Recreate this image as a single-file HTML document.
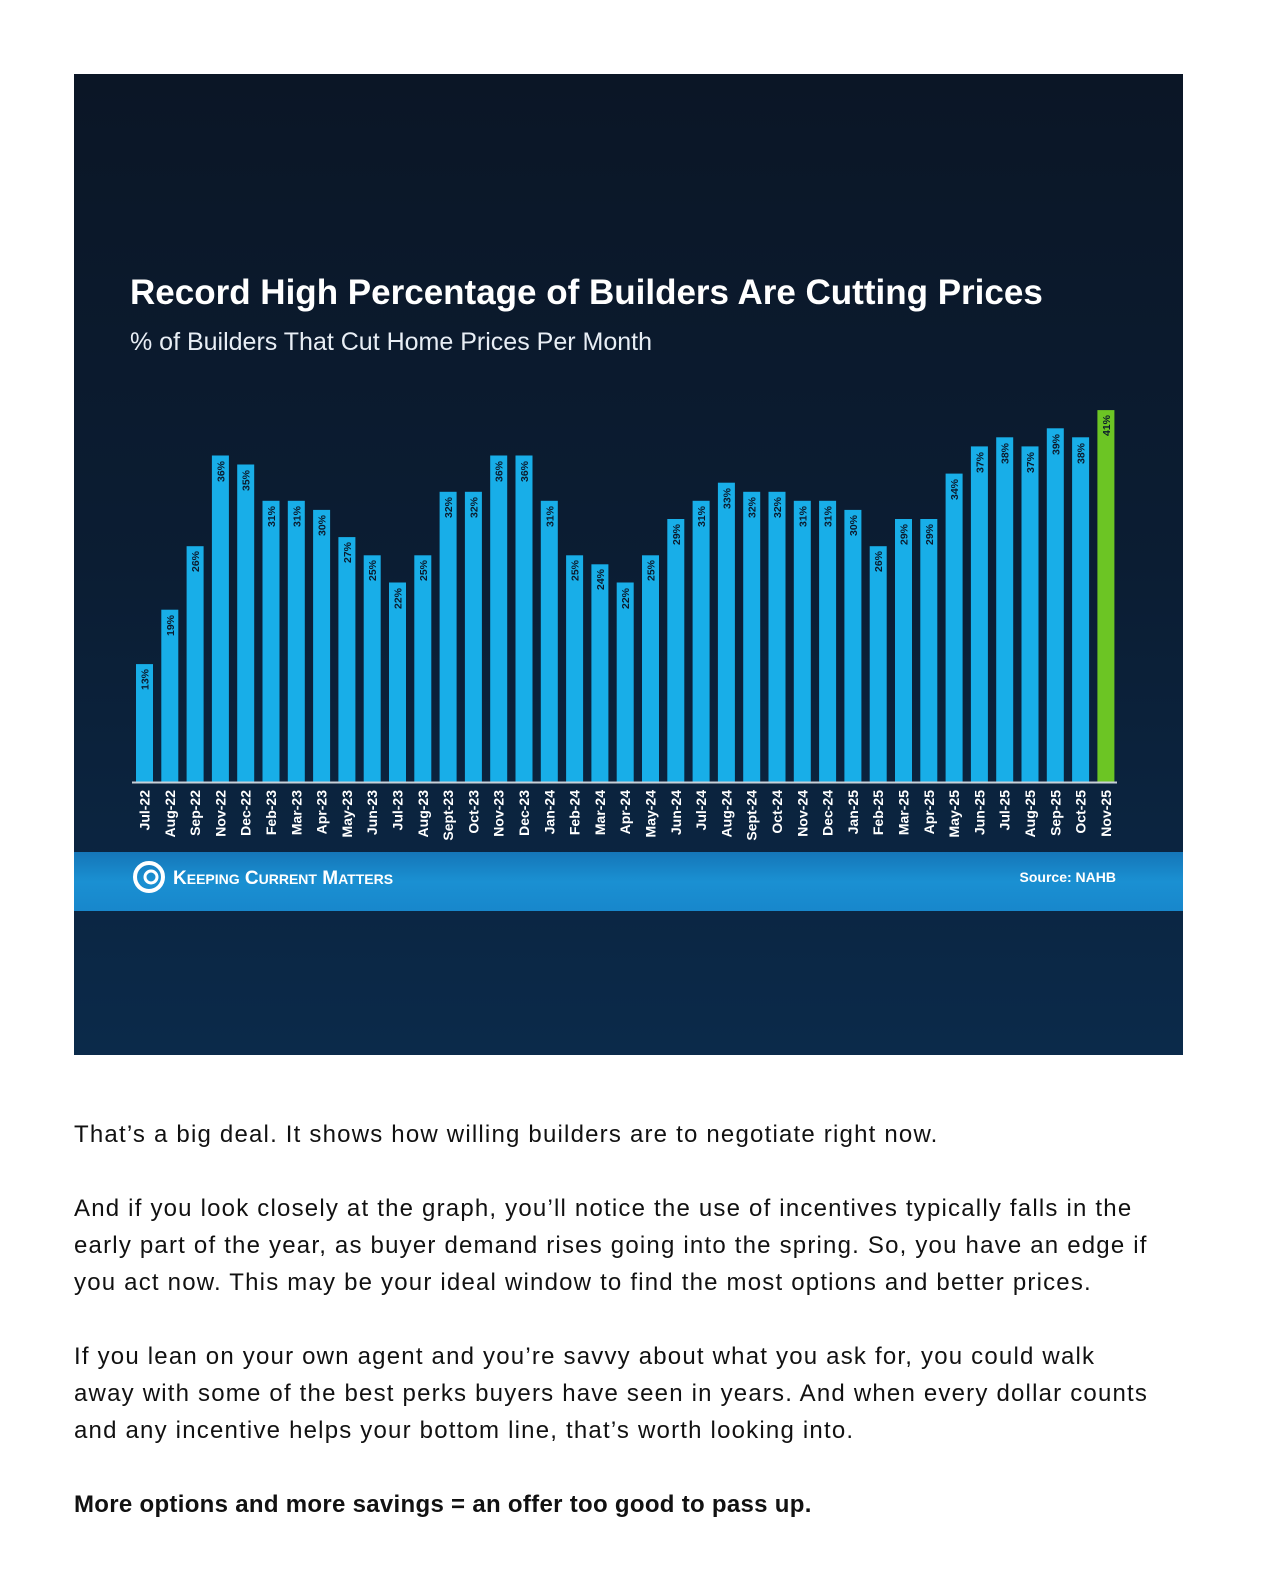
<!DOCTYPE html>
<html><head><meta charset="utf-8"><style>
body{margin:0;background:#fff;width:1275px;height:1590px;position:relative;overflow:hidden;font-family:"Liberation Sans",sans-serif}
.p{position:absolute;left:74px;font-size:24px;line-height:37px;color:#111;white-space:nowrap;letter-spacing:1.2px}
</style></head><body>
<svg style="position:absolute;left:0;top:0" width="1275" height="1090" font-family="Liberation Sans, sans-serif">
<defs><linearGradient id="bg" x1="0" y1="0" x2="0" y2="1"><stop offset="0" stop-color="#0b1626"/><stop offset="0.5" stop-color="#0b1d33"/><stop offset="1" stop-color="#0b2a4a"/></linearGradient>
<linearGradient id="ft" x1="0" y1="0" x2="0" y2="1"><stop offset="0" stop-color="#1576b8"/><stop offset="0.5" stop-color="#1a90d2"/><stop offset="1" stop-color="#1887cc"/></linearGradient></defs>
<rect x="74" y="74" width="1109" height="981" fill="url(#bg)"/>
<rect x="74" y="852" width="1109" height="59" fill="url(#ft)"/>
<text x="130" y="304" fill="#fff" font-size="35" font-weight="bold">Record High Percentage of Builders Are Cutting Prices</text>
<text x="130" y="350" fill="#e8eef5" font-size="25">% of Builders That Cut Home Prices Per Month</text>
<g fill="#18aee8">
<rect x="136.0" y="664.1" width="17" height="117.9"/><rect x="161.3" y="609.7" width="17" height="172.3"/><rect x="186.6" y="546.2" width="17" height="235.8"/><rect x="211.9" y="455.5" width="17" height="326.5"/><rect x="237.2" y="464.5" width="17" height="317.5"/><rect x="262.5" y="500.8" width="17" height="281.2"/><rect x="287.8" y="500.8" width="17" height="281.2"/><rect x="313.1" y="509.9" width="17" height="272.1"/><rect x="338.4" y="537.1" width="17" height="244.9"/><rect x="363.7" y="555.3" width="17" height="226.7"/><rect x="389.0" y="582.5" width="17" height="199.5"/><rect x="414.3" y="555.3" width="17" height="226.7"/><rect x="439.6" y="491.8" width="17" height="290.2"/><rect x="464.9" y="491.8" width="17" height="290.2"/><rect x="490.2" y="455.5" width="17" height="326.5"/><rect x="515.5" y="455.5" width="17" height="326.5"/><rect x="540.8" y="500.8" width="17" height="281.2"/><rect x="566.1" y="555.3" width="17" height="226.7"/><rect x="591.4" y="564.3" width="17" height="217.7"/><rect x="616.7" y="582.5" width="17" height="199.5"/><rect x="642.0" y="555.3" width="17" height="226.7"/><rect x="667.3" y="519.0" width="17" height="263.0"/><rect x="692.6" y="500.8" width="17" height="281.2"/><rect x="717.9" y="482.7" width="17" height="299.3"/><rect x="743.2" y="491.8" width="17" height="290.2"/><rect x="768.5" y="491.8" width="17" height="290.2"/><rect x="793.8" y="500.8" width="17" height="281.2"/><rect x="819.1" y="500.8" width="17" height="281.2"/><rect x="844.4" y="509.9" width="17" height="272.1"/><rect x="869.7" y="546.2" width="17" height="235.8"/><rect x="895.0" y="519.0" width="17" height="263.0"/><rect x="920.3" y="519.0" width="17" height="263.0"/><rect x="945.6" y="473.6" width="17" height="308.4"/><rect x="970.9" y="446.4" width="17" height="335.6"/><rect x="996.2" y="437.3" width="17" height="344.7"/><rect x="1021.5" y="446.4" width="17" height="335.6"/><rect x="1046.8" y="428.3" width="17" height="353.7"/><rect x="1072.1" y="437.3" width="17" height="344.7"/>
</g>
<rect x="1097.4" y="410.1" width="17" height="371.9" fill="#6cc524"/>
<line x1="132" y1="782.5" x2="1117" y2="782.5" stroke="#c8d0d8" stroke-width="2"/>
<g fill="#0b1a2c" font-size="10.5" font-weight="bold" text-anchor="end">
<text transform="translate(148.5,669) rotate(-90)">13%</text><text transform="translate(173.8,615) rotate(-90)">19%</text><text transform="translate(199.1,551) rotate(-90)">26%</text><text transform="translate(224.4,461) rotate(-90)">36%</text><text transform="translate(249.7,470) rotate(-90)">35%</text><text transform="translate(275,506) rotate(-90)">31%</text><text transform="translate(300.3,506) rotate(-90)">31%</text><text transform="translate(325.6,515) rotate(-90)">30%</text><text transform="translate(350.9,542) rotate(-90)">27%</text><text transform="translate(376.2,560) rotate(-90)">25%</text><text transform="translate(401.5,588) rotate(-90)">22%</text><text transform="translate(426.8,560) rotate(-90)">25%</text><text transform="translate(452.1,497) rotate(-90)">32%</text><text transform="translate(477.4,497) rotate(-90)">32%</text><text transform="translate(502.7,461) rotate(-90)">36%</text><text transform="translate(528,461) rotate(-90)">36%</text><text transform="translate(553.3,506) rotate(-90)">31%</text><text transform="translate(578.6,560) rotate(-90)">25%</text><text transform="translate(603.9,569) rotate(-90)">24%</text><text transform="translate(629.2,588) rotate(-90)">22%</text><text transform="translate(654.5,560) rotate(-90)">25%</text><text transform="translate(679.8,524) rotate(-90)">29%</text><text transform="translate(705.1,506) rotate(-90)">31%</text><text transform="translate(730.4,488) rotate(-90)">33%</text><text transform="translate(755.7,497) rotate(-90)">32%</text><text transform="translate(781,497) rotate(-90)">32%</text><text transform="translate(806.3,506) rotate(-90)">31%</text><text transform="translate(831.6,506) rotate(-90)">31%</text><text transform="translate(856.9,515) rotate(-90)">30%</text><text transform="translate(882.2,551) rotate(-90)">26%</text><text transform="translate(907.5,524) rotate(-90)">29%</text><text transform="translate(932.8,524) rotate(-90)">29%</text><text transform="translate(958.1,479) rotate(-90)">34%</text><text transform="translate(983.4,452) rotate(-90)">37%</text><text transform="translate(1008.7,443) rotate(-90)">38%</text><text transform="translate(1034,452) rotate(-90)">37%</text><text transform="translate(1059.3,434) rotate(-90)">39%</text><text transform="translate(1084.6,443) rotate(-90)">38%</text><text transform="translate(1109.9,415) rotate(-90)">41%</text>
</g>
<g fill="#fff" font-size="14" font-weight="bold" text-anchor="end">
<text transform="translate(149.5,790) rotate(-90)">Jul-22</text><text transform="translate(174.8,790) rotate(-90)">Aug-22</text><text transform="translate(200.1,790) rotate(-90)">Sep-22</text><text transform="translate(225.4,790) rotate(-90)">Nov-22</text><text transform="translate(250.7,790) rotate(-90)">Dec-22</text><text transform="translate(276,790) rotate(-90)">Feb-23</text><text transform="translate(301.3,790) rotate(-90)">Mar-23</text><text transform="translate(326.6,790) rotate(-90)">Apr-23</text><text transform="translate(351.9,790) rotate(-90)">May-23</text><text transform="translate(377.2,790) rotate(-90)">Jun-23</text><text transform="translate(402.5,790) rotate(-90)">Jul-23</text><text transform="translate(427.8,790) rotate(-90)">Aug-23</text><text transform="translate(453.1,790) rotate(-90)">Sept-23</text><text transform="translate(478.4,790) rotate(-90)">Oct-23</text><text transform="translate(503.7,790) rotate(-90)">Nov-23</text><text transform="translate(529,790) rotate(-90)">Dec-23</text><text transform="translate(554.3,790) rotate(-90)">Jan-24</text><text transform="translate(579.6,790) rotate(-90)">Feb-24</text><text transform="translate(604.9,790) rotate(-90)">Mar-24</text><text transform="translate(630.2,790) rotate(-90)">Apr-24</text><text transform="translate(655.5,790) rotate(-90)">May-24</text><text transform="translate(680.8,790) rotate(-90)">Jun-24</text><text transform="translate(706.1,790) rotate(-90)">Jul-24</text><text transform="translate(731.4,790) rotate(-90)">Aug-24</text><text transform="translate(756.7,790) rotate(-90)">Sept-24</text><text transform="translate(782,790) rotate(-90)">Oct-24</text><text transform="translate(807.3,790) rotate(-90)">Nov-24</text><text transform="translate(832.6,790) rotate(-90)">Dec-24</text><text transform="translate(857.9,790) rotate(-90)">Jan-25</text><text transform="translate(883.2,790) rotate(-90)">Feb-25</text><text transform="translate(908.5,790) rotate(-90)">Mar-25</text><text transform="translate(933.8,790) rotate(-90)">Apr-25</text><text transform="translate(959.1,790) rotate(-90)">May-25</text><text transform="translate(984.4,790) rotate(-90)">Jun-25</text><text transform="translate(1009.7,790) rotate(-90)">Jul-25</text><text transform="translate(1035,790) rotate(-90)">Aug-25</text><text transform="translate(1060.3,790) rotate(-90)">Sep-25</text><text transform="translate(1085.6,790) rotate(-90)">Oct-25</text><text transform="translate(1110.9,790) rotate(-90)">Nov-25</text>
</g>
<circle cx="149" cy="877" r="14" fill="none" stroke="#fff" stroke-width="4"/>
<circle cx="151" cy="877" r="6" fill="none" stroke="#fff" stroke-width="3"/>
<text x="173" y="884" fill="#fff" font-size="19" font-weight="bold">K<tspan font-size="14">EEPING</tspan> C<tspan font-size="14">URRENT</tspan> M<tspan font-size="14">ATTERS</tspan></text>
<text x="1116" y="882" fill="#fff" font-size="14" font-weight="bold" text-anchor="end">Source: NAHB</text>
</svg>
<div class="p" style="top:1116px">That’s a big deal. It shows how willing builders are to negotiate right now.</div>
<div class="p" style="top:1190px">And if you look closely at the graph, you’ll notice the use of incentives typically falls in the<br>early part of the year, as buyer demand rises going into the spring. So, you have an edge if<br>you act now. This may be your ideal window to find the most options and better prices.</div>
<div class="p" style="top:1338px">If you lean on your own agent and you’re savvy about what you ask for, you could walk<br>away with some of the best perks buyers have seen in years. And when every dollar counts<br>and any incentive helps your bottom line, that’s worth looking into.</div>
<div class="p" style="top:1486px;font-weight:bold;letter-spacing:0.3px">More options and more savings = an offer too good to pass up.</div>
</body></html>
